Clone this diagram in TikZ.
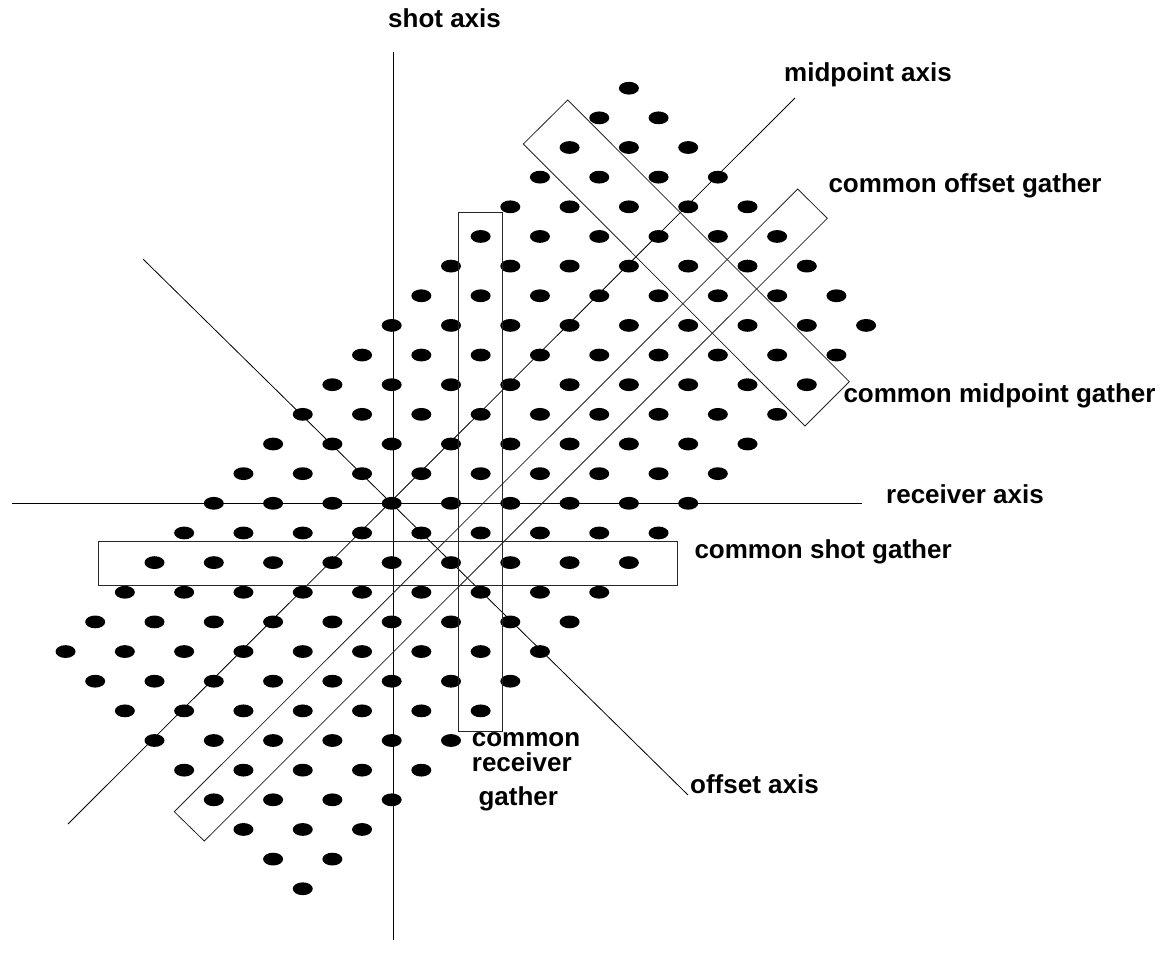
\documentclass[tikz,border=0pt]{standalone}
\usepackage{fontspec}
\setmainfont{Liberation Sans}
\begin{document}
\begin{tikzpicture}[x=1pt,y=-1pt,
  axisline/.style={line width=0.8pt,black},
  gbox/.style={line width=0.8pt,black!85},
  lbl/.style={font=\fontsize{26}{27}\selectfont\bfseries, anchor=base west, inner sep=0pt}]
\useasboundingbox (0,0) rectangle (1163,970);
\fill[white] (0,0) rectangle (1163,970);
% dots of the shot-receiver grid
\foreach \u in {-16,-14,...,22} {
  \foreach \v in {-6,-4,...,10} {
    \fill ({391.7+14.825*(\u+\v)},{503.3-14.825*(\u-\v)}) ellipse [x radius=10, y radius=6.4];
  }
}
% axes
\coordinate (sT) at (393.8,52);   \coordinate (sB) at (393.8,940);
\coordinate (rL) at (12,503.3);   \coordinate (rR) at (862,503.3);
\coordinate (mL) at (68,824);     \coordinate (mR) at (795,98);
\coordinate (oL) at (143.3,259.3);\coordinate (oR) at (688,795);
\draw[axisline] (sT) -- (sB);
\draw[axisline] (rL) -- (rR);
\draw[axisline] (mL) -- (mR);
\draw[axisline] (oL) -- (oR);
% gather boxes
\coordinate (cr1) at (458.3,212.7); \coordinate (cr2) at (502.7,731.7);
\draw[gbox] (cr1) rectangle (cr2);
\coordinate (cs1) at (98.3,541); \coordinate (cs2) at (677.3,585);
\draw[gbox] (cs1) rectangle (cs2);
\coordinate (co1) at (174.3,811.7); \coordinate (co2) at (797.7,189);
\coordinate (co3) at (827.3,218.3); \coordinate (co4) at (204.3,841);
\draw[gbox] (co1) -- (co2) -- (co3) -- (co4) -- cycle;
\coordinate (cm1) at (567.7,100); \coordinate (cm2) at (849.3,381.7);
\coordinate (cm3) at (805,426); \coordinate (cm4) at (523.3,144);
\draw[gbox] (cm1) -- (cm2) -- (cm3) -- (cm4) -- cycle;
% labels
\node[lbl] (lshot) at (388,27) {shot axis};
\node[lbl] (lmid) at (784,81) {midpoint axis};
\node[lbl] (loff) at (828.3,192.3) {common offset gather};
\node[lbl] (lcmp) at (843.3,402.3) {common midpoint gather};
\node[lbl] (lrec) at (886,503) {receiver axis};
\node[lbl] (lcsg) at (694.3,558.3) {common shot gather};
\node[lbl] (lcrg1) at (471.7,746) {common};
\node[lbl] (lcrg2) at (471.7,771.7) {receiver};
\node[lbl] (lcrg3) at (478.3,805) {gather};
\node[lbl] (lofa) at (690,793) {offset axis};
\end{tikzpicture}
\end{document}
